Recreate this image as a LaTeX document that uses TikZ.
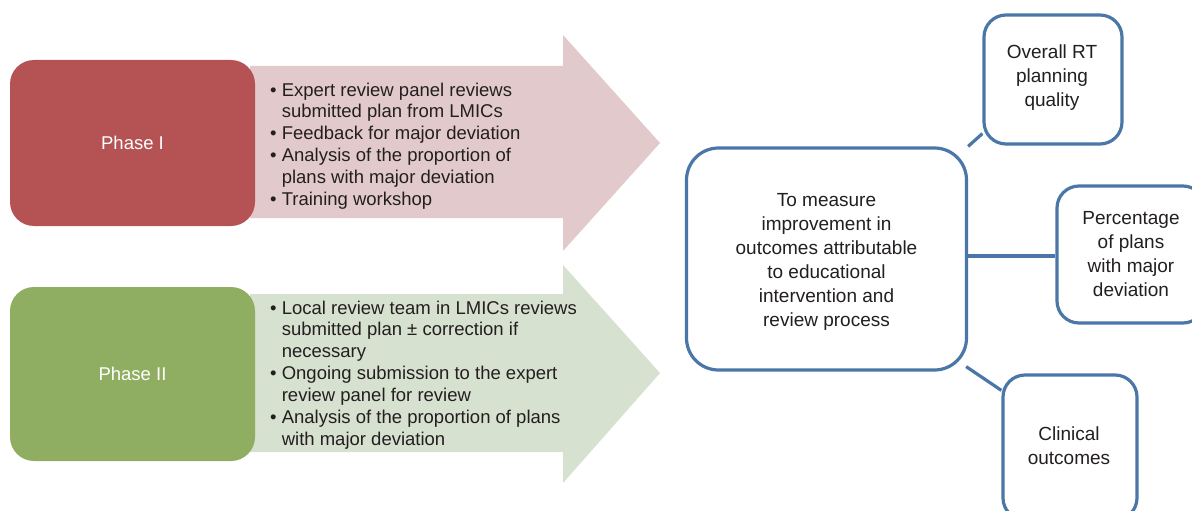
\documentclass[tikz,border=0pt]{standalone}
\usepackage{fontspec}
\setmainfont{Liberation Sans}
\definecolor{phaseone}{RGB}{181,82,84}
\definecolor{arrowone}{RGB}{226,201,203}
\definecolor{phasetwo}{RGB}{143,174,98}
\definecolor{arrowtwo}{RGB}{215,225,207}
\definecolor{bluel}{RGB}{74,119,168}
\definecolor{txt}{RGB}{35,31,32}
\begin{document}
\begin{tikzpicture}[x=1pt,y=-1pt,
 phasebox/.style={rounded corners=24pt, minimum width=245pt, minimum height=#1, text=white,
   font=\fontsize{18.5}{22}\selectfont, inner sep=0pt},
 bullets/.style={anchor=west, align=left, font=\fontsize{18.5}{21.9}\selectfont, inner sep=0pt, text=txt},
 outbox/.style={draw=bluel, line width=3.2pt, fill=white, align=center, inner sep=0pt,
   font=\fontsize{19}{24}\selectfont, text=txt},
 outtext/.style={align=center, inner sep=0pt, font=\fontsize{19}{24}\selectfont, text=txt},
 link/.style={draw=bluel, line width=3.2pt}
]
\useasboundingbox (0,0) rectangle (1192,511);
\clip (0,0) rectangle (1192,511);
\fill[white] (0,0) rectangle (1192,511);
% arrows
\fill[arrowone] (250,66) -- (563,66) -- (563,35) -- (660,143) -- (563,251) -- (563,218) -- (250,218) -- cycle;
\fill[arrowtwo] (250,294) -- (563,294) -- (563,265) -- (660,373) -- (563,483) -- (563,452) -- (250,452) -- cycle;
% phase boxes
\node[phasebox=166pt, fill=phaseone] (p1) at (132.5,143) {Phase I};
\node[phasebox=174pt, fill=phasetwo] (p2) at (132.5,374) {Phase II};
% bullet texts
\node[bullets] (b1) at (270,146) {%
• Expert review panel reviews\\
\phantom{• }submitted plan from LMICs\\
• Feedback for major deviation\\
• Analysis of the proportion of\\
\phantom{• }plans with major deviation\\
• Training workshop};
\node[bullets] (b2) at (270,375) {%
• Local review team in LMICs reviews\\
\phantom{• }submitted plan ± correction if\\
\phantom{• }necessary\\
• Ongoing submission to the expert\\
\phantom{• }review panel for review\\
• Analysis of the proportion of plans\\
\phantom{• }with major deviation};
% outcome boxes
\node[outbox, rounded corners=32pt, minimum width=280pt, minimum height=222pt] (c) at (826.5,259) {};
\node[outtext] (ct) at (826.5,262)
 {To measure\\improvement in\\outcomes attributable\\to educational\\intervention and\\review process};
\node[outbox, rounded corners=22pt, minimum width=138pt, minimum height=129pt] (rt) at (1053,79.5) {};
\node[outtext] (rtt) at (1052,78) {Overall RT\\planning\\quality};
\node[outbox, rounded corners=22pt, minimum width=148pt, minimum height=137pt] (pc) at (1131,254.5)
 {Percentage\\of plans\\with major\\deviation};
\node[outbox, rounded corners=22pt, minimum width=134pt, minimum height=145pt] (cl) at (1070,447.5) {};
\node[outtext] (clt) at (1069,446) {Clinical\\outcomes};
% connectors
\draw[link] (c.north east) -- ([yshift=12pt]rt.south west);
\draw[link] ([yshift=3pt]c.east) -- ([yshift=3pt]c.east -| pc.west);
\draw[link] ([xshift=-2pt,yshift=5pt]c.south east) -- ([yshift=-17pt]cl.north west);
\end{tikzpicture}
\end{document}
